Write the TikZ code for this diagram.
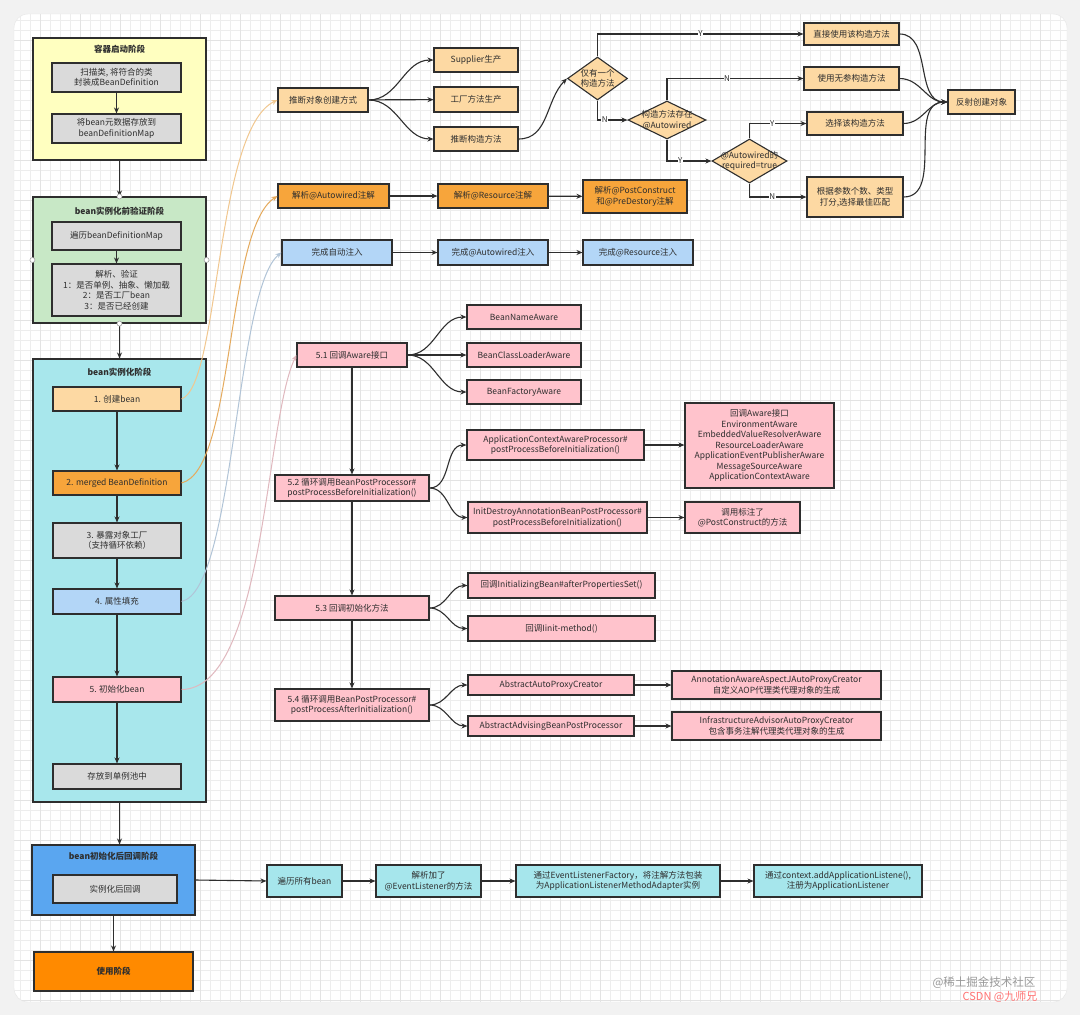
\documentclass[tikz,border=0pt]{standalone}
\usepackage{fontspec}
\setmainfont{Noto Sans CJK SC}
\usetikzlibrary{arrows.meta,shapes.geometric}

\definecolor{ink}{HTML}{2E2E2E}
\definecolor{startyellow}{HTML}{FFFFC0}
\definecolor{checkgreen}{HTML}{C8E8C6}
\definecolor{boxgray}{HTML}{DADADA}
\definecolor{instcyan}{HTML}{A8E7EC}
\definecolor{lorange}{HTML}{FDD9A3}
\definecolor{dorange}{HTML}{F7A53B}
\definecolor{lblue}{HTML}{B3D6F7}
\definecolor{lpink}{HTML}{FFC3CC}
\definecolor{postblue}{HTML}{5AA6F0}
\definecolor{useorange}{HTML}{FF8A00}
\definecolor{evcyan}{HTML}{A6E6EC}

\begin{document}
\begin{tikzpicture}[
  x=1pt, y=-1pt,
  >={Stealth[length=6pt,width=5pt]},
  every node/.style={font=\fontsize{8.5}{10.5}\selectfont, text=ink},
  box/.style={draw=ink, line width=1.1pt, rectangle, align=center, inner sep=1pt},
  phase/.style={draw=ink, line width=1.1pt, rectangle},
  title/.style={font=\bfseries\fontsize{8.5}{10.5}\selectfont},
  dia/.style={diamond, draw=ink, fill=lorange, line width=1.1pt, inner sep=0pt},
  flow/.style={->, draw=ink, line width=1.1pt},
  link/.style={->, line width=1pt},
  yn/.style={fill=white, inner sep=0.5pt, font=\fontsize{8}{9}\selectfont},
  handle/.style={circle, draw=gray!70, fill=white, inner sep=0pt, minimum size=5pt, line width=0.6pt},
  gridline/.style={draw=black!7, line width=0.4pt},
  sz/.style 2 args={minimum width=#1, minimum height=#2},
  ]
  \useasboundingbox (0,0) rectangle (1080,1015);
  \fill[black!5] (0,0) rectangle (1080,1015);
  % card with grid
  \fill[white, draw=black!10, rounded corners=14pt] (14,14) rectangle (1067,1002);
  \begin{scope}
    \clip[rounded corners=14pt] (14,14) rectangle (1067,1002);
    \foreach \gx in {20,30,...,1060} \draw[gridline] (\gx,14) -- (\gx,1002);
    \foreach \gy in {20,30,...,1000} \draw[gridline] (14,\gy) -- (1067,\gy);
    \foreach \gx in {40,80,...,1060} \draw[gridline, draw=black!11] (\gx,14) -- (\gx,1002);
    \foreach \gy in {40,80,...,1000} \draw[gridline, draw=black!11] (14,\gy) -- (1067,\gy);
  \end{scope}

  % left column: phases
  \node[phase, fill=startyellow, sz={173}{122}] (startphase) at (119.5,99) {};
  \node[title] (starttitle) at (119.5,49) {容器启动阶段};
  \node[box, fill=boxgray, sz={129}{29}] (scan) at (116.5,77.5) {扫描类, 将符合的类\\封装成BeanDefinition};
  \node[box, fill=boxgray, sz={129}{29}] (store) at (116.5,128.5) {将bean元数据存放到\\beanDefinitionMap};

  \node[phase, fill=checkgreen, sz={173}{126}] (checkphase) at (119.5,260) {};
  \node[title] (checktitle) at (119.5,211) {bean实例化前验证阶段};
  \node[box, fill=boxgray, sz={129}{28}] (traverse) at (116.5,236) {遍历beanDefinitionMap};
  \node[box, fill=boxgray, sz={129}{52}] (verify) at (116.5,290) {解析、验证\\1：是否单例、抽象、懒加载\\2：是否工厂bean\\3：是否已经创建};

  \node[phase, fill=instcyan, sz={173}{443}] (instphase) at (119.5,580.5) {};
  \node[title] (insttitle) at (119.5,372) {bean实例化阶段};
  \node[box, fill=lorange, sz={128}{24}] (create) at (117,399) {1. 创建bean};
  \node[box, fill=dorange, sz={128}{24}] (merged) at (117,483) {2. merged BeanDefinition};
  \node[box, fill=boxgray, sz={128}{35}] (expose) at (117,540.5) {3. 暴露对象工厂\\（支持循环依赖）};
  \node[box, fill=lblue, sz={128}{25}] (populate) at (117,601.5) {4. 属性填充};
  \node[box, fill=lpink, sz={128}{25}] (init) at (117,689.5) {5. 初始化bean};
  \node[box, fill=boxgray, sz={128}{25}] (pool) at (117,776.5) {存放到单例池中};

  \node[phase, fill=postblue, sz={163}{70}] (postphase) at (113.5,880) {};
  \node[title] (posttitle) at (113.5,856) {bean初始化后回调阶段};
  \node[box, fill=boxgray, sz={124}{28}] (callback) at (115,889) {实例化后回调};

  \node[phase, fill=useorange, sz={159}{39}, title] (usephase) at (113.5,971.5) {使用阶段};

  \draw[flow] (scan) -- (store);
  \draw[flow] (startphase) -- (checkphase);
  \draw[flow] (traverse) -- (verify);
  \draw[flow] (checkphase) -- (instphase);
  \draw[flow] (create) -- (merged);
  \draw[flow] (merged) -- (expose);
  \draw[flow] (expose) -- (populate);
  \draw[flow] (populate) -- (init);
  \draw[flow] (init) -- (pool);
  \draw[flow] (instphase.south) -- (instphase.south |- postphase.north);
  \draw[flow] (postphase) -- (usephase);

  \node[handle] (h1) at (checkphase.north) {};
  \node[handle] (h2) at (checkphase.south) {};
  \node[handle] (h3) at (checkphase.west) {};
  \node[handle] (h4) at (checkphase.east) {};

  % creating the instance
  \node[box, fill=lorange, sz={90}{24}] (infer) at (323,100) {推断对象创建方式};
  \node[box, fill=lorange, sz={84}{24}] (supplier) at (476,60) {Supplier生产};
  \node[box, fill=lorange, sz={84}{25}] (factory) at (476,99.5) {工厂方法生产};
  \node[box, fill=lorange, sz={84}{24}] (ctor) at (476,139) {推断构造方法};
  \node[dia, sz={60}{43}, label={[align=center]center:{仅有一个\\构造方法}}] (only) at (597.5,78.5) {};
  \node[dia, sz={78}{38}, label={[align=center]center:{构造方法存在\\@Autowired}}] (hasaw) at (667,120) {};
  \node[dia, sz={75}{44}, label={[align=center]center:{@Autowired的\\required=true}}] (required) at (749.5,161) {};
  \node[box, fill=lorange, sz={95}{22}] (direct) at (851.5,34) {直接使用该构造方法};
  \node[box, fill=lorange, sz={95}{23}] (noarg) at (851.5,78.5) {使用无参构造方法};
  \node[box, fill=lorange, sz={96}{23}] (choose) at (855,123.5) {选择该构造方法};
  \node[box, fill=lorange, sz={96}{40}] (score) at (855,197) {根据参数个数、类型\\打分,选择最佳匹配};
  \node[box, fill=lorange, sz={67}{24}] (reflect) at (981.5,102) {反射创建对象};

  \draw[flow] (infer.east) to[out=0,in=180] (supplier.west);
  \draw[flow] (infer) -- (factory);
  \draw[flow] (infer.east) to[out=0,in=180] (ctor.west);
  \draw[flow] (ctor.east) to[out=0,in=225] (only.west);
  \draw[flow] (only.north) |- node[yn, pos=0.75] {Y} (direct.west);
  \draw[flow] (only.south) |- node[yn, pos=0.62] {N} (hasaw.west);
  \draw[flow] (hasaw.north) |- node[yn, pos=0.72] {N} (noarg.west);
  \draw[flow] (hasaw.south) |- node[yn, pos=0.65] {Y} (required.west);
  \draw[flow] (required.north) |- node[yn, pos=0.7] {Y} (choose.west);
  \draw[flow] (required.south) |- node[yn, pos=0.7] {N} (score.west);
  \draw[flow] (direct.east) to[out=0,in=180] (reflect.west);
  \draw[flow] (noarg.east) to[out=0,in=180] (reflect.west);
  \draw[flow] (choose.east) to[out=0,in=180] (reflect.west);
  \draw[flow] (score.east) to[out=0,in=180] (reflect.west);

  % merged bean definition
  \node[box, fill=dorange, sz={111}{24}] (autowired) at (333.5,196) {解析@Autowired注解};
  \node[box, fill=dorange, sz={110}{24}] (resource) at (493,196) {解析@Resource注解};
  \node[box, fill=dorange, sz={104}{33}] (postcons) at (635,196.5) {解析@PostConstruct\\和@PreDestory注解};
  \draw[flow] (autowired) -- (resource);
  \draw[flow] (resource) -- (postcons);

  % populate
  \node[box, fill=lblue, sz={110}{25}] (autoinject) at (337,252.5) {完成自动注入};
  \node[box, fill=lblue, sz={110}{25}] (awinject) at (493,252.5) {完成@Autowired注入};
  \node[box, fill=lblue, sz={110}{25}] (resinject) at (638,252.5) {完成@Resource注入};
  \draw[flow] (autoinject) -- (awinject);
  \draw[flow] (awinject) -- (resinject);

  % initialization
  \node[box, fill=lpink, sz={110}{24}] (aware) at (352,355) {5.1 回调Aware接口};
  \node[box, fill=lpink, sz={114}{24}] (beanname) at (524,317) {BeanNameAware};
  \node[box, fill=lpink, sz={114}{24}] (classloader) at (524,355) {BeanClassLoaderAware};
  \node[box, fill=lpink, sz={114}{24}] (factoryaware) at (524,392) {BeanFactoryAware};
  \node[box, fill=lpink, sz={154}{26}] (before) at (352,488) {5.2 循环调用BeanPostProcessor\#\\postProcessBeforeInitialization()};
  \node[box, fill=lpink, sz={177}{30}] (acap) at (555.5,445) {ApplicationContextAwareProcessor\#\\postProcessBeforeInitialization()};
  \node[box, fill=lpink, sz={179}{31}] (initdestroy) at (557.5,517.5) {InitDestroyAnnotationBeanPostProcessor\#\\postProcessBeforeInitialization()};
  \node[box, fill=lpink, sz={149}{85}] (awarelist) at (759.5,445.5) {回调Aware接口\\EnvironmentAware\\EmbeddedValueResolverAware\\ResourceLoaderAware\\ApplicationEventPublisherAware\\MessageSourceAware\\ApplicationContextAware};
  \node[box, fill=lpink, sz={115}{31}] (callpc) at (742.5,517.5) {调用标注了\\@PostConstruct的方法};
  \node[box, fill=lpink, sz={154}{24}] (initmethods) at (352,608) {5.3 回调初始化方法};
  \node[box, fill=lpink, sz={187}{25}] (afterprops) at (561.5,585.5) {回调InitializingBean\#afterPropertiesSet()};
  \node[box, fill=lpink, sz={187}{25}] (initmethod) at (561.5,628.5) {回调Iinit-method()};
  \node[box, fill=lpink, sz={154}{32}] (after) at (352,705) {5.4 循环调用BeanPostProcessor\#\\postProcessAfterInitialization()};
  \node[box, fill=lpink, sz={166}{20}] (autoproxy) at (551,685) {AbstractAutoProxyCreator};
  \node[box, fill=lpink, sz={166}{20}] (advising) at (551,726) {AbstractAdvisingBeanPostProcessor};
  \node[box, fill=lpink, sz={209}{28}] (aspectj) at (776.5,685) {AnnotationAwareAspectJAutoProxyCreator\\自定义AOP代理类代理对象的生成};
  \node[box, fill=lpink, sz={209}{28}] (infra) at (776.5,726) {InfrastructureAdvisorAutoProxyCreator\\包含事务注解代理类代理对象的生成};

  \draw[flow] (aware.east) to[out=0,in=180] (beanname.west);
  \draw[flow] (aware) -- (classloader);
  \draw[flow] (aware.east) to[out=0,in=180] (factoryaware.west);
  \draw[flow] (aware) -- (before);
  \draw[flow] (before.east) to[out=0,in=180] (acap.west);
  \draw[flow] (before.east) to[out=0,in=180] (initdestroy.west);
  \draw[flow] (acap.east) -- (acap.east -| awarelist.west);
  \draw[flow] (initdestroy) -- (callpc);
  \draw[flow] (before) -- (initmethods);
  \draw[flow] (initmethods.east) to[out=0,in=180] (afterprops.west);
  \draw[flow] (initmethods.east) to[out=0,in=180] (initmethod.west);
  \draw[flow] (initmethods) -- (after);
  \draw[flow] (after.east) to[out=0,in=180] (autoproxy.west);
  \draw[flow] (after.east) to[out=0,in=180] (advising.west);
  \draw[flow] (autoproxy) -- (aspectj);
  \draw[flow] (advising) -- (infra);

  % coloured links from the steps
  \draw[link, draw=lorange!85!black!70, color=lorange!80!brown] (create.east) .. controls (220,385) and (215,130) .. (infer.west);
  \draw[link, color=dorange!90!black!80] (merged.east) .. controls (235,470) and (225,230) .. (autowired.west);
  \draw[link, color=lblue!80!black!70] (populate.east) .. controls (235,590) and (235,290) .. (autoinject.west);
  \draw[link, color=lpink!85!black!80] (init.east) .. controls (265,689) and (265,420) .. (aware.west);

  % after initialization
  \node[box, fill=evcyan, sz={75}{32}] (allbeans) at (304.5,881) {遍历所有bean};
  \node[box, fill=evcyan, sz={105}{32}] (evlistener) at (428.5,881) {解析加了\\@EventListener的方法};
  \node[box, fill=evcyan, sz={204}{32}] (adapter) at (618,881) {通过EventListenerFactory，将注解方法包装\\为ApplicationListenerMethodAdapter实例};
  \node[box, fill=evcyan, sz={168}{32}] (register) at (838,881) {通过context.addApplicationListene(),\\注册为ApplicationListener};
  \draw[flow] (postphase.east) -- (allbeans.west);
  \draw[flow] (allbeans) -- (evlistener);
  \draw[flow] (evlistener) -- (adapter);
  \draw[flow] (adapter) -- (register);

  \node[text=black!40, font=\fontsize{11.5}{13}\selectfont] (wmark) at (984,983) {@稀土掘金技术社区};
  \node[text=red!55, font=\fontsize{11}{13}\selectfont] (csdn) at (1000,997) {CSDN @九师兄};
\end{tikzpicture}
\end{document}
